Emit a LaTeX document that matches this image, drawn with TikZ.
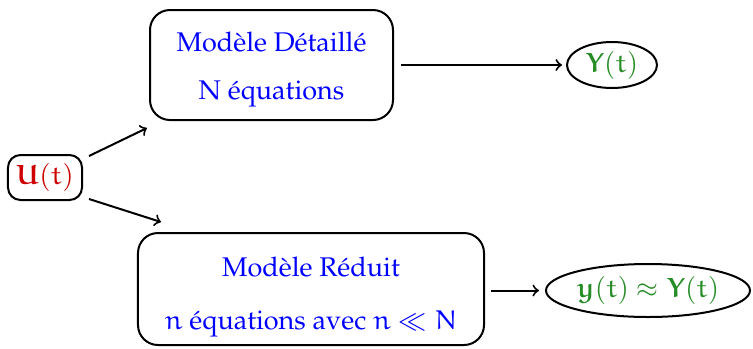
\documentclass[tikz,border=0pt]{standalone}
\IfFileExists{mathpazo.sty}
  {\usepackage[T1]{fontenc}\usepackage{mathpazo}}
  {\usepackage{fontspec}\setmainfont{Liberation Serif}}
\usepackage{amsmath}
% Euler letters for the symbols (fonts from amsfonts)
\DeclareMathAlphabet{\mathe}{U}{eur}{m}{n}
\SetMathAlphabet{\mathe}{bold}{U}{eur}{b}{n}
\DeclareMathAlphabet{\mathbe}{U}{eur}{b}{n}
% two centred lines, lowered by #1 without changing the box size
\newcommand{\lowlines}[2]{\raisebox{#1}[\height][\depth]{\begin{tabular}{@{}c@{}}#2\end{tabular}}}
\usetikzlibrary{shapes.geometric}
\definecolor{inred}{rgb}{0.80,0,0}
\definecolor{outgreen}{rgb}{0.15,0.55,0.15}
\begin{document}
\begin{tikzpicture}[x=0.4pt,y=-0.4pt,
    every node/.style={font=\fontsize{10.8}{12.9}\selectfont},
    modelbox/.style={draw,line width=0.8pt,rounded corners=8pt,text=blue},
    inbox/.style={draw,line width=0.8pt,rounded corners=5pt,text=inred,inner sep=0pt},
    outell/.style={draw,ellipse,line width=0.8pt,text=outgreen,inner sep=0pt},
    arr/.style={->,line width=0.8pt}]
  \useasboundingbox (0,0) rectangle (753,348);
  % input
  \node[inbox,minimum width=29.6pt,minimum height=18pt] (u) at (45,177.5)
    {$\mathbe{U}(\mathe{t})$};
  % the two models
  \node[modelbox,minimum width=97.2pt,minimum height=44pt] (full) at (271.5,65)
    {\lowlines{-1.6pt}{Mod\`ele D\'etaill\'e\\[6.5pt] N \'equations}};
  \node[modelbox,minimum width=138.4pt,minimum height=44.8pt] (red) at (311,289)
    {\lowlines{-3pt}{Mod\`ele R\'eduit\\[8.5pt] $\mathe{n}$ \'equations avec $\mathe{n}\ll\mathe{N}$}};
  % outputs
  \node[outell,minimum width=36pt,minimum height=18.4pt] (Y) at (612,65)
    {$\mathbe{Y}(\mathe{t})$};
  \node[outell,minimum width=81.6pt,minimum height=21.2pt] (y) at (648,290.5)
    {$\mathbe{y}(\mathe{t})\approx\mathbe{Y}(\mathe{t})$};
  % connections
  \draw[arr] ([shift={(2.4pt,-0.8pt)}]u.north east) -- ([shift={(-0.8pt,-2.8pt)}]full.south west);
  \draw[arr] ([shift={(2.4pt,0.8pt)}]u.south east) -- ([shift={(9.6pt,4pt)}]red.north west);
  \draw[arr,shorten <=2.8pt,shorten >=1.6pt] (full.east) -- (Y.west);
  \draw[arr,shorten <=2.4pt,shorten >=2.4pt] (red.east |- y.west) -- (y.west);
\end{tikzpicture}
\end{document}
